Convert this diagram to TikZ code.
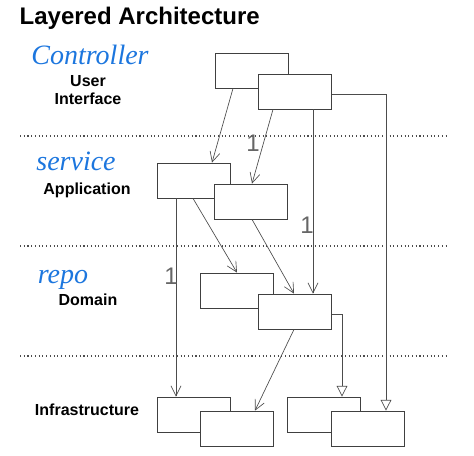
\documentclass[tikz,border=0pt]{standalone}
\usepackage{fontspec}
\setmainfont{Liberation Sans}
\newfontfamily\penfont{Liberation Serif}
\usetikzlibrary{arrows.meta,calc}
\definecolor{pen}{RGB}{28,118,222}
\tikzset{
  cls/.style={draw=black!75, fill=white, line width=0.6pt, minimum width=54.75pt, minimum height=26.25pt, inner sep=0pt},
  dep/.style={draw=black!70, line width=0.5pt, -{Straight Barb[length=7.5pt,width=7.5pt]}},
  gen/.style={draw=black!70, line width=0.5pt, -{Triangle[open,length=8pt,width=8pt]}},
  layer/.style={font=\bfseries\fontsize{12}{14}\selectfont, align=center},
  note/.style={text=pen, font=\penfont\itshape\fontsize{21}{21}\selectfont},
  mult/.style={text=black!60, font=\fontsize{18}{18}\selectfont}
}
\begin{document}
\begin{tikzpicture}[x=0.75pt,y=-0.75pt]
    \useasboundingbox (0,0) rectangle (474,455);
    \node[anchor=west, font=\bfseries\fontsize{18}{20}\selectfont] (title) at (15,18) {Layered Architecture};
    \draw[dotted, line width=0.8pt, black!70] (20,136) -- (448,136);
    \draw[dotted, line width=0.8pt, black!70] (20,246) -- (448,246);
    \draw[dotted, line width=0.8pt, black!70] (20,356) -- (448,356);
    \node[note] (hw1) at (90,55) {Controller};
    \node[note] (hw2) at (76,161) {service};
    \node[note] (hw3) at (63,280) {repo};
    \node[layer] (lui) at (88,90) {User\\Interface};
    \node[layer] (lap) at (87,190) {Application};
    \node[layer] (ldm) at (88,300) {Domain};
    \node[layer] (lin) at (87,410) {Infrastructure};
    \node[cls] (ui1) at (251.5,70.5) {};
    \node[cls] (ui2) at (295,91.5) {};
    \node[cls] (ap1) at (193.5,180.5) {};
    \node[cls] (ap2) at (251,201.5) {};
    \node[cls] (dm1) at (236.5,290.5) {};
    \node[cls] (dm2) at (295,311.5) {};
    \node[cls] (in1) at (193.5,414.5) {};
    \node[cls] (in2) at (236.5,428.5) {};
    \node[cls] (in3) at (324,414.5) {};
    \node[cls] (in4) at (367.5,428.5) {};
    \draw[dep] ($(ui1.south)+(-18.5,0)$) -- ($(ap1.north)+(18.5,0)$);
    \draw[dep] ($(ui2.south)+(-22,0)$) -- ($(ap2.north)+(1,0)$);
    \draw[dep] ($(ui2.south)+(18,0)$) -- ($(dm2.north)+(18,0)$);
    \draw[gen] ($(ui2.east)+(0,2.5)$) -| ($(in4.north)+(18.5,0)$);
    \draw[dep] ($(ap1.south)+(-0.5,0)$) -- ($(dm1.north)+(0.5,0)$);
    \draw[dep] ($(ap1.south)+(-17.5,0)$) -- ($(in1.north)+(-17.5,0)$);
    \draw[dep] ($(ap2.south)+(1,0)$) -- ($(dm2.north)+(-1,0)$);
    \draw[gen] ($(dm2.east)+(0,2.5)$) -| ($(in3.north)+(18,0)$);
    \draw[dep] ($(dm2.south)+(-1,0)$) -- ($(in2.north)+(18.5,0)$);
    \node[mult] (m1) at (253,143) {1};
    \node[mult] (m2) at (307,225) {1};
    \node[mult] (m3) at (171,276) {1};
  \end{tikzpicture}
\end{document}
